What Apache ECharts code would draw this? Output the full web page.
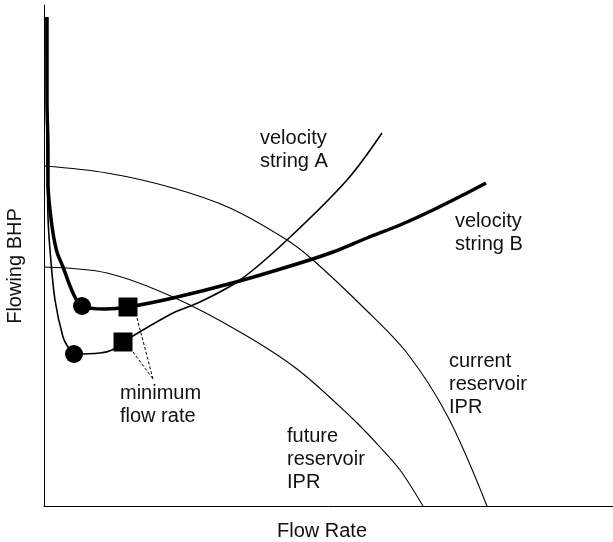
<!DOCTYPE html>
<html lang="en">
  <head>
    <meta charset="UTF-8" />
    <title>Velocity string vs IPR</title>
    <script src="https://cdn.jsdelivr.net/npm/echarts/dist/echarts.min.js"></script>
    <style>
      html, body { margin: 0; padding: 0; background: #fff; }
      #main { width: 613px; height: 542px; }
    </style>
  </head>
  <body>
    <div id="main"></div>
    <script>
      // curves, [flow rate, BHP]
      var stringB = [[3,489],[3,406],[4,356],[4,323],[6,296],[9,273],[13,254],[19,239],[29,213],[38,200],
        [61,197],[84,199],[129,208],[192,224],[256,243],[289,254],[323,268],[356,281],[389,296],[423,313],[442,323]];
      var stringA = [[2,489],[3,356],[4,289],[6,256],[11,206],[19,169],[24,159],[30,152],[56,153],[68,156],
        [79,164],[129,193],[156,204],[196,226],[243,266],[303,326],[338,373]];
      var currentIPR = [[0,340],[63,333],[129,318],[186,298],[243,266],[269,246],[319,199],[363,153],[404,89],[443,0]];
      var futureIPR = [[0,239],[63,233],[129,209],[196,174],[253,137],[309,87],[336,59],[356,36],[379,0]];
      var circles = [[38,200],[30,152]];
      var squares = [[84,199],[79,164]];
      var pointer1 = [[93,188],[109,127]];
      var pointer2 = [[89,154],[109,127]];

      var font = "'Liberation Sans', Arial, sans-serif";
      var chart = echarts.init(document.getElementById("main"));

      function curve(data, width) {
        return {
          type: "line", data: data, smooth: 0.33, symbol: "none", silent: true,
          lineStyle: { color: "#000", width: width }
        };
      }
      function label(txt, x, y, rot) {
        return {
          type: "text", x: x, y: y, rotation: rot || 0,
          style: {
            text: txt, font: "20px " + font, fill: "#111", lineHeight: 23,
            align: rot ? "center" : "left", textAlign: rot ? "center" : "left",
            verticalAlign: "middle", textVerticalAlign: "middle"
          }
        };
      }

      chart.setOption({
        animation: false,
        grid: { left: 44, right: 0, top: 5, bottom: 36 },
        xAxis: {
          type: "value", min: 0, max: 569,
          axisLine: { lineStyle: { color: "#000", width: 1 } },
          axisTick: { show: false }, axisLabel: { show: false }, splitLine: { show: false }
        },
        yAxis: {
          type: "value", min: 0, max: 501,
          axisLine: { show: true, lineStyle: { color: "#000", width: 1 } },
          axisTick: { show: false }, axisLabel: { show: false }, splitLine: { show: false }
        },
        series: [
          curve(currentIPR, 1.1),
          curve(futureIPR, 1.1),
          curve(stringA, 1.6),
          curve(stringB, 3.5),
          {
            type: "line", data: pointer1, symbol: "none", silent: true,
            lineStyle: { color: "#000", width: 1, type: [3, 2] }
          },
          {
            type: "line", data: pointer2, symbol: "none", silent: true,
            lineStyle: { color: "#000", width: 1, type: [3, 2] }
          },
          { type: "scatter", data: circles, symbol: "circle", symbolSize: 18, itemStyle: { color: "#000", opacity: 1 } },
          { type: "scatter", data: squares, symbol: "rect", symbolSize: 19, itemStyle: { color: "#000", opacity: 1 } }
        ],
        graphic: [
          label("velocity\nstring A", 260, 149.5),
          label("velocity\nstring B", 455, 233),
          label("current\nreservoir\nIPR", 449, 384),
          label("future\nreservoir\nIPR", 287, 459),
          label("minimum\nflow rate", 120, 405),
          label("Flow Rate", 322, 531, 0.0001),
          label("Flowing BHP", 15, 266, Math.PI / 2)
        ]
      });
    </script>
  </body>
</html>
